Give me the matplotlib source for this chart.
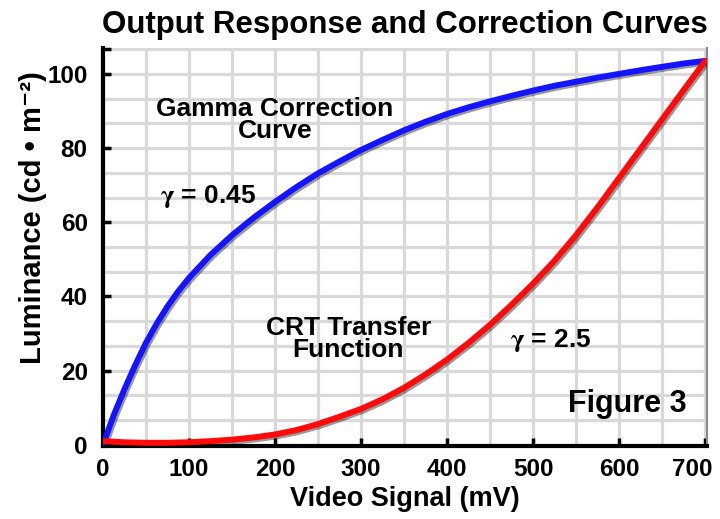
import matplotlib
matplotlib.use("Agg")
import matplotlib.pyplot as plt
import matplotlib.patheffects as pe
from matplotlib.ticker import MultipleLocator
from matplotlib.transforms import ScaledTranslation

plt.rcParams['font.family'] = ['Liberation Sans', 'DejaVu Sans']
plt.rcParams['font.weight'] = 'bold'
plt.rcParams['mathtext.fontset'] = 'stix'

# values
signal_blue = [0, 12.5, 25, 37.5, 50, 62.5, 75, 87.5, 100, 125, 150, 175, 200, 225, 250,
               275, 300, 325, 350, 375, 400, 425, 450, 475, 500, 525, 550, 575, 600,
               625, 650, 675, 700]
lum_blue = [0, 8, 15, 21.5, 27.5, 32.7, 37.3, 41.4, 45, 51.2, 56.5, 61.2, 65.5, 69.5, 73.2,
            76.4, 79.5, 82.2, 84.8, 87.1, 89.2, 91.0, 92.6, 94.1, 95.5, 96.8, 97.9, 99.0, 100,
            101, 101.9, 102.8, 103.5]

signal_red = [0, 25, 50, 75, 100, 125, 150, 175, 200, 225, 250, 275, 300, 325, 350,
              375, 400, 425, 450, 475, 500, 525, 550, 575, 600, 625, 650, 675, 700]
lum_red = [1.0, 0.7, 0.55, 0.55, 0.7, 1.0, 1.4, 2.0, 2.8, 4.0, 5.6, 7.6, 9.7, 12.3, 15.4,
           19.0, 23, 27.5, 32.4, 37.8, 43.5, 49.7, 56.6, 64.1, 72, 79.9, 87.8, 95.7, 103.5]

x_ticks = [0, 100, 200, 300, 400, 500, 600, 700]
y_ticks = [0, 20, 40, 60, 80, 100, 320 / 3]
y_labels = ['0', '20', '40', '60', '80', '100', '']

fig = plt.figure(figsize=(7.2, 5.19), dpi=100, facecolor='white')
ax = fig.add_axes([0.143, 0.1407, 0.839, 0.767])
ax.set_facecolor('white')

shadow = [pe.SimpleLineShadow(offset=(1.2, -1.4), shadow_color='black', alpha=0.4),
          pe.Normal()]

ax.plot(signal_blue, lum_blue, color='#1414ff', linewidth=4.3,
        solid_capstyle='round', solid_joinstyle='round', path_effects=shadow, zorder=4)
ax.plot(signal_red, lum_red, color='#ff0a0a', linewidth=4.3,
        solid_capstyle='round', solid_joinstyle='round', path_effects=shadow, zorder=4)

ax.set_xlim(0, 702)
ax.set_ylim(-0.3, 107)
ax.set_xticks(x_ticks)
ax.set_yticks(y_ticks, y_labels)
ax.xaxis.set_minor_locator(MultipleLocator(50))
ax.yaxis.set_minor_locator(MultipleLocator(20 / 3))
ax.grid(True, which='both', color='#d9d9d9', linewidth=2.3, zorder=0)
ax.set_axisbelow(True)

ax.spines['top'].set_visible(False)
ax.spines['right'].set_edgecolor('#8a8a8a')
ax.spines['right'].set_linewidth(1.5)
ax.spines['left'].set_linewidth(3)
ax.spines['bottom'].set_linewidth(3)
ax.spines['bottom'].set_path_effects([pe.SimplePatchShadow(offset=(1, -2.5), alpha=0.3), pe.Normal()])
ax.spines['right'].set_path_effects([pe.SimplePatchShadow(offset=(2.5, -1), alpha=0.3), pe.Normal()])

ax.tick_params(axis='both', which='major', direction='in', length=6, width=2.5,
               labelsize=17.5)
ax.tick_params(axis='x', which='major', pad=9)
ax.tick_params(axis='y', which='major', pad=11)
ax.tick_params(axis='both', which='minor', length=0)
for lab in ax.get_xticklabels() + ax.get_yticklabels():
    lab.set_fontweight('bold')
# the last x label sits a bit to the left, as in the original
last = ax.get_xticklabels()[-1]
last.set_transform(last.get_transform() + ScaledTranslation(-0.13, 0, fig.dpi_scale_trans))

ax.set_xlabel('Video Signal (mV)', fontsize=19.5, fontweight='bold', labelpad=3)
ax.set_ylabel('Luminance (cd • m⁻²)', fontsize=21, fontweight='bold')
ax.yaxis.set_label_coords(-0.092, 0.575)
ax.set_title('Output Response and Correction Curves', fontsize=22.5, fontweight='bold', pad=11)

ax.text(200, 87.5, 'Gamma Correction\nCurve', fontsize=19, fontweight='bold',
        ha='center', va='center', linespacing=0.92)
ax.text(66, 67, r'$\mathrm{\gamma}$ = 0.45', fontsize=19, fontweight='bold', ha='left', va='center')
ax.text(285, 28.5, 'CRT Transfer\nFunction', fontsize=19, fontweight='bold',
        ha='center', va='center', linespacing=0.92)
ax.text(473, 28, r'$\mathrm{\gamma}$ = 2.5', fontsize=19, fontweight='bold', ha='left', va='center')
ax.text(541, 11, 'Figure 3', fontsize=22, fontweight='bold', ha='left', va='center')

fig.savefig('out.png', dpi=100, facecolor='white')
